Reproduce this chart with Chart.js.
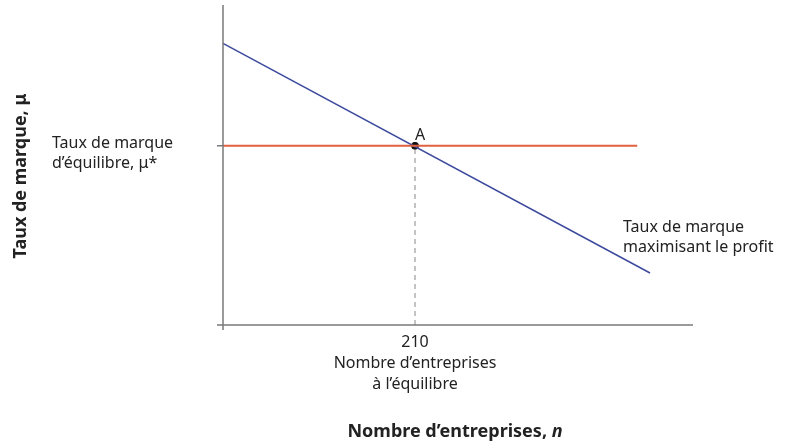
<!DOCTYPE html>
<html><head><meta charset="utf-8">
<script src="https://cdn.jsdelivr.net/npm/chart.js@4.4.0/dist/chart.umd.min.js"></script>
<style>html,body{margin:0;padding:0;background:#fff;}#wrap{width:810px;height:444px;}</style>
</head><body><div id="wrap"><canvas id="c" width="810" height="444"></canvas></div>
<script>
// Data
const profitN = [0, 467];          // number of firms, n
const profitMarkup = [88, 16.25];  // profit-maximising markup
const eqN = [0, 453];
const eqMarkup = [56, 56];         // equilibrium markup μ*
const equilibriumN = 210;
const equilibriumMu = 56;
const xTicks = [0, 210];
const yTicks = [0, 56];
const xTickLabels = {210: ['210', 'Nombre d\u2019entreprises', '\u00e0 l\u2019\u00e9quilibre']};

const FONT = '"Noto Sans", "Open Sans", sans-serif';
const AXIS = '#7a7a7a';
const TEXT = '#222';

const axesPlugin = {
  id: 'axesPlugin',
  afterDatasetsDraw(chart) {
    const ctx = chart.ctx, xs = chart.scales.x, ys = chart.scales.y;
    const x0 = xs.getPixelForValue(0), y0 = ys.getPixelForValue(0);
    ctx.save();
    ctx.strokeStyle = AXIS; ctx.lineWidth = 1.5;
    ctx.beginPath();
    ctx.moveTo(x0, ys.top); ctx.lineTo(x0, y0 + 5);
    ctx.moveTo(x0 - 6, y0); ctx.lineTo(xs.right, y0);
    // y tick at μ*
    yTicks.forEach(v => { if (v !== 0) { const p = ys.getPixelForValue(v); ctx.moveTo(x0 - 6, p); ctx.lineTo(x0, p); } });
    ctx.stroke();
    // x tick labels
    ctx.fillStyle = TEXT; ctx.textAlign = 'center'; ctx.textBaseline = 'alphabetic';
    ctx.font = '16px ' + FONT;
    xTicks.forEach(v => {
      const lab = xTickLabels[v]; if (!lab) return;
      const px = xs.getPixelForValue(v);
      lab.forEach((t, i) => ctx.fillText(t, px, y0 + 22 + i * 21));
    });
    // y tick label
    ctx.textAlign = 'left';
    const py = ys.getPixelForValue(equilibriumMu);
    ctx.fillText('Taux de marque', 52, py + 2);
    ctx.fillText('d\u2019\u00e9quilibre, \u03bc*', 52, py + 22);
    // curve label
    ctx.fillText('Taux de marque', 623, 232);
    ctx.fillText('maximisant le profit', 623, 252);
    // point label
    ctx.textAlign = 'center';
    ctx.fillText('A', xs.getPixelForValue(equilibriumN) + 5, py - 6);
    // x title
    ctx.font = 'bold 18px ' + FONT;
    const t1 = 'Nombre d\u2019entreprises, ';
    ctx.font = 'bold 18px ' + FONT; const w1 = ctx.measureText(t1).width;
    ctx.font = 'italic bold 18px ' + FONT; const w2 = ctx.measureText('n').width;
    const sx = 455 - (w1 + w2) / 2;
    ctx.textAlign = 'left';
    ctx.font = 'bold 18px ' + FONT; ctx.fillText(t1, sx, 437);
    ctx.font = 'italic bold 18px ' + FONT; ctx.fillText('n', sx + w1, 437);
    // y title
    ctx.translate(26, 176); ctx.rotate(-Math.PI / 2);
    ctx.textAlign = 'center';
    ctx.font = 'bold 18px ' + FONT;
    ctx.fillText('Taux de marque, \u03bc', 0, 0);
    ctx.restore();
  }
};

new Chart(document.getElementById('c'), {
  type: 'scatter',
  data: {
    datasets: [
      { data: [{x: equilibriumN, y: 0}, {x: equilibriumN, y: equilibriumMu}], showLine: true, borderColor: '#8a8a8a', borderWidth: 1, borderDash: [5, 4], pointRadius: 0 },
      { data: eqN.map((n, i) => ({x: n, y: eqMarkup[i]})), showLine: true, borderColor: '#e0603f', borderWidth: 2, pointRadius: 0, clip: false },
      { data: profitN.map((n, i) => ({x: n, y: profitMarkup[i]})), showLine: true, borderColor: '#3c4a9e', borderWidth: 1.5, pointRadius: 0, clip: false },
      { data: [{x: equilibriumN, y: equilibriumMu}], pointRadius: 3.5, pointBackgroundColor: '#111', pointBorderColor: '#111' }
    ]
  },
  options: {
    responsive: false, animation: false, events: [],
    layout: { padding: { left: 223, right: 810 - 693, top: 5, bottom: 444 - 325 } },
    plugins: { legend: { display: false }, tooltip: { enabled: false } },
    scales: {
      x: { type: 'linear', min: 0, max: 514, display: false },
      y: { type: 'linear', min: 0, max: 100, display: false }
    }
  },
  plugins: [axesPlugin]
});
</script></body></html>
